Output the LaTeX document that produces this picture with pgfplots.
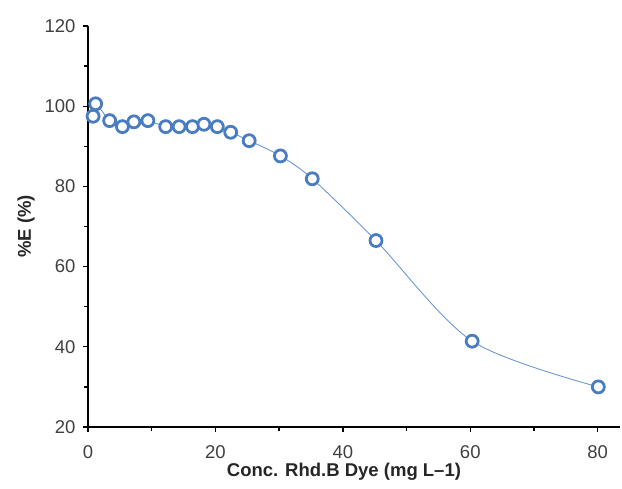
\documentclass[border=0pt]{standalone}
\usepackage{pgfplots}
\pgfplotsset{compat=1.18}
\usepackage{fontspec}
\setmainfont{Liberation Sans}
\definecolor{xlblue}{HTML}{4A7CC2}
\definecolor{lnblue}{HTML}{6A98D4}
\definecolor{ticktxt}{HTML}{404040}
\begin{document}
\begin{tikzpicture}
\begin{axis}[name=ax, scale only axis, width=532bp, height=401bp,
  xmin=0, xmax=83.5, ymin=20, ymax=120,
  axis x line*=bottom, axis y line*=left,
  axis line style={line width=1.6pt, black},
  xtick={0,20,40,60,80}, minor xtick={10,30,50,70},
  ytick={20,40,...,120}, minor ytick={30,50,...,110},
  tick style={line width=1.4pt, black},
  major tick length=5bp, minor tick length=4bp,
  tick align=outside,
  ticklabel style={font=\fontsize{18.5bp}{20bp}\selectfont, text=ticktxt},
  xticklabel style={yshift=-10bp},
  yticklabel style={xshift=-4bp},
  /pgf/number format/assume math mode=true,
  xlabel={\bfseries Conc. Rhd.B Dye (mg L–1)},
  ylabel={\bfseries \%E (\%)},
  label style={font=\fontsize{18.5bp}{20bp}\selectfont\bfseries, text=black!85},
  xlabel style={yshift=2bp, xshift=-10bp},
  ylabel style={yshift=3bp},
  clip=false,
]
\addplot[color=lnblue, line width=0.9pt, smooth, tension=0.5,
  mark=*, mark size=6bp,
  mark options={draw=xlblue, fill=white, line width=2.8pt}]
coordinates {
(0.8,97.5)(1.2,100.6)(3.4,96.4)(5.4,94.9)(7.2,96.1)(9.4,96.4)(12.2,94.9)(14.3,94.9)(16.4,94.9)(18.2,95.5)(20.3,94.9)(22.4,93.5)(25.3,91.4)(30.2,87.6)(35.2,81.9)(45.2,66.5)(60.3,41.4)(80.1,30.0)
};
\end{axis}
\useasboundingbox ([xshift=-88bp,yshift=-62bp]ax.south west) rectangle ([xshift=534bp,yshift=427bp]ax.south west);
\end{tikzpicture}
\end{document}
